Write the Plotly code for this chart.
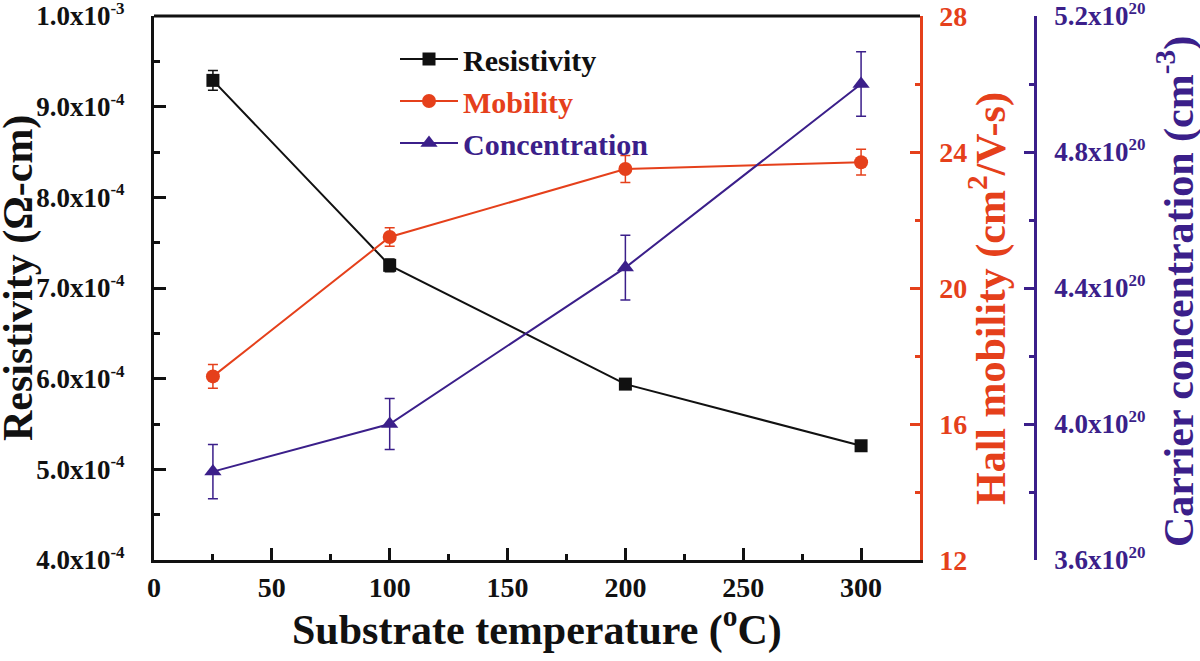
import plotly.graph_objects as go

# ---- data ----
temperature = [25, 100, 200, 300]
resistivity = [9.29e-4, 7.25e-4, 5.94e-4, 5.26e-4]
resistivity_err = [0.11e-4, 0.07e-4, 0.04e-4, 0.02e-4]
mobility = [17.4, 21.5, 23.5, 23.7]
mobility_err = [0.35, 0.27, 0.40, 0.38]
concentration = [3.86e20, 4.00e20, 4.46e20, 5.00e20]
concentration_err = [0.08e20, 0.075e20, 0.095e20, 0.095e20]

x_ticks = [0, 50, 100, 150, 200, 250, 300]
res_ticks = [4e-4, 5e-4, 6e-4, 7e-4, 8e-4, 9e-4, 1e-3]
res_mantissa = ["4.0", "5.0", "6.0", "7.0", "8.0", "9.0", "1.0"]
res_exponent = ["-4", "-4", "-4", "-4", "-4", "-4", "-3"]
mob_ticks = [12, 16, 20, 24, 28]
conc_ticks = [3.6e20, 4.0e20, 4.4e20, 4.8e20, 5.2e20]
conc_mantissa = ["3.6", "4.0", "4.4", "4.8", "5.2"]
conc_exponent = ["20", "20", "20", "20", "20"]

BLACK = "#111111"
RED = "#E5401B"
PURPLE = "#3B1F8A"
FONT = "Liberation Serif"
SUP = "<sup><span style='font-size:17px'>{}</span></sup>"

res_ticktext = [f"{m}x10" + SUP.format(e) for m, e in zip(res_mantissa, res_exponent)]
conc_ticktext = [f"{m}x10" + SUP.format(e) for m, e in zip(conc_mantissa, conc_exponent)]

fig = go.Figure()

fig.add_trace(go.Scatter(
    x=temperature, y=resistivity, mode="lines+markers",
    name=f"<span style='color:{BLACK}'>Resistivity</span>",
    line=dict(color=BLACK, width=2),
    marker=dict(symbol="square", size=13, color=BLACK),
    error_y=dict(type="data", array=resistivity_err, color=BLACK, thickness=1.5, width=5),
    yaxis="y", cliponaxis=False,
))
fig.add_trace(go.Scatter(
    x=temperature, y=mobility, mode="lines+markers",
    name=f"<span style='color:{RED}'>Mobility</span>",
    line=dict(color=RED, width=2),
    marker=dict(symbol="circle", size=14, color=RED),
    error_y=dict(type="data", array=mobility_err, color=RED, thickness=1.5, width=5),
    yaxis="y2", cliponaxis=False,
))
fig.add_trace(go.Scatter(
    x=temperature, y=concentration, mode="lines+markers",
    name=f"<span style='color:{PURPLE}'>Concentration</span>",
    line=dict(color=PURPLE, width=2),
    marker=dict(symbol="triangle-up", size=15, color=PURPLE),
    error_y=dict(type="data", array=concentration_err, color=PURPLE, thickness=1.5, width=5),
    yaxis="y3", cliponaxis=False,
))

W, H = 1200, 661
L, R, T, B = 154, 0, 16, 101
paper_w = W - L - R
plot_h = H - T - B
x_dom_end = (920 - L) / paper_w
y3_pos = (1035 - L) / paper_w


def px_x(px):
    return (px - L) / paper_w


def px_y(py):
    return 1 - (py - T) / plot_h


tickfont = dict(family=FONT, size=27, weight="bold")
xtickfont = dict(family=FONT, size=28, weight="bold")
titlefont = dict(family=FONT, size=42, weight="bold")

fig.update_layout(
    width=W, height=H,
    margin=dict(l=L, r=R, t=T, b=B, autoexpand=False),
    paper_bgcolor="white", plot_bgcolor="white",
    showlegend=True,
    legend=dict(
        x=px_x(395), y=px_y(33),
        xanchor="left", yanchor="top",
        bgcolor="rgba(0,0,0,0)", borderwidth=0,
        font=dict(family=FONT, size=30, weight="bold", color=BLACK),
        itemwidth=58, tracegroupgap=0,
    ),
    xaxis=dict(
        domain=[0, x_dom_end], range=[0, 325],
        tickvals=x_ticks, ticktext=[str(v) for v in x_ticks],
        ticks="inside", ticklen=12, tickwidth=3, tickcolor=BLACK,
        minor=dict(tickvals=[25, 75, 125, 175, 225, 275], ticks="inside",
                   ticklen=6, tickwidth=3, tickcolor=BLACK),
        showline=True, linecolor=BLACK, linewidth=3,
        showgrid=False, zeroline=False,
        tickfont=dict(xtickfont, color=BLACK),
        ticklabelstandoff=0, ticklabeloverflow="allow",
        automargin=False,
    ),
    yaxis=dict(
        range=[4e-4, 1e-3],
        tickvals=res_ticks, ticktext=res_ticktext,
        ticks="inside", ticklen=12, tickwidth=3, tickcolor=BLACK,
        minor=dict(tickvals=[4.5e-4, 5.5e-4, 6.5e-4, 7.5e-4, 8.5e-4, 9.5e-4],
                   ticks="inside", ticklen=6, tickwidth=3, tickcolor=BLACK),
        showline=True, linecolor=BLACK, linewidth=3,
        showgrid=False, zeroline=False,
        tickfont=dict(tickfont, color=BLACK),
        ticklabelstandoff=21, ticklabeloverflow="allow",
        automargin=False,
    ),
    yaxis2=dict(
        range=[12, 28], overlaying="y", side="right", anchor="x",
        tickvals=mob_ticks, ticktext=[str(v) for v in mob_ticks],
        ticks="inside", ticklen=10, tickwidth=2.5, tickcolor=RED,
        minor=dict(tickvals=[14, 18, 22, 26], ticks="inside",
                   ticklen=5, tickwidth=2.5, tickcolor=RED),
        showline=True, linecolor=RED, linewidth=2.5,
        showgrid=False, zeroline=False,
        tickfont=dict(xtickfont, color=RED),
        ticklabelstandoff=11, ticklabeloverflow="allow",
        automargin=False,
    ),
    yaxis3=dict(
        range=[3.6e20, 5.2e20], overlaying="y", side="right", anchor="free",
        position=y3_pos,
        tickvals=conc_ticks, ticktext=conc_ticktext,
        ticks="inside", ticklen=10, tickwidth=2.5, tickcolor=PURPLE,
        minor=dict(tickvals=[3.8e20, 4.2e20, 4.6e20, 5.0e20], ticks="inside",
                   ticklen=5, tickwidth=2.5, tickcolor=PURPLE),
        showline=True, linecolor=PURPLE, linewidth=2.5,
        showgrid=False, zeroline=False,
        tickfont=dict(tickfont, color=PURPLE),
        ticklabelstandoff=12, ticklabeloverflow="allow",
        automargin=False,
    ),
    shapes=[dict(type="line", xref="x domain", yref="y domain",
                 x0=0, x1=1, y0=1, y1=1, line=dict(color=BLACK, width=3))],
    annotations=[
        dict(text="Substrate temperature (<sup>o</sup>C)", xref="paper", yref="paper",
             x=px_x(537), y=px_y(627), xanchor="center", yanchor="middle",
             showarrow=False, font=dict(titlefont, color=BLACK)),
        dict(text="Resistivity (Ω-cm)", xref="paper", yref="paper",
             x=px_x(18), y=px_y(278), xanchor="center", yanchor="middle",
             textangle=-90, showarrow=False, borderpad=0, font=dict(titlefont, color=BLACK)),
        dict(text="Hall mobility (cm<sup>2</sup>/V-s)", xref="paper", yref="paper",
             x=px_x(988), y=px_y(299), xanchor="center", yanchor="middle",
             textangle=-90, showarrow=False, font=dict(titlefont, color=RED)),
        dict(text="Carrier concentration (cm<sup>-3</sup>)", xref="paper", yref="paper",
             x=px_x(1176), y=px_y(292), xanchor="center", yanchor="middle",
             textangle=-90, showarrow=False, borderpad=0, font=dict(titlefont, color=PURPLE)),
    ],
)

fig.write_html("out.html", config={"displayModeBar": False},
               post_script="document.body.style.margin='0px';")
